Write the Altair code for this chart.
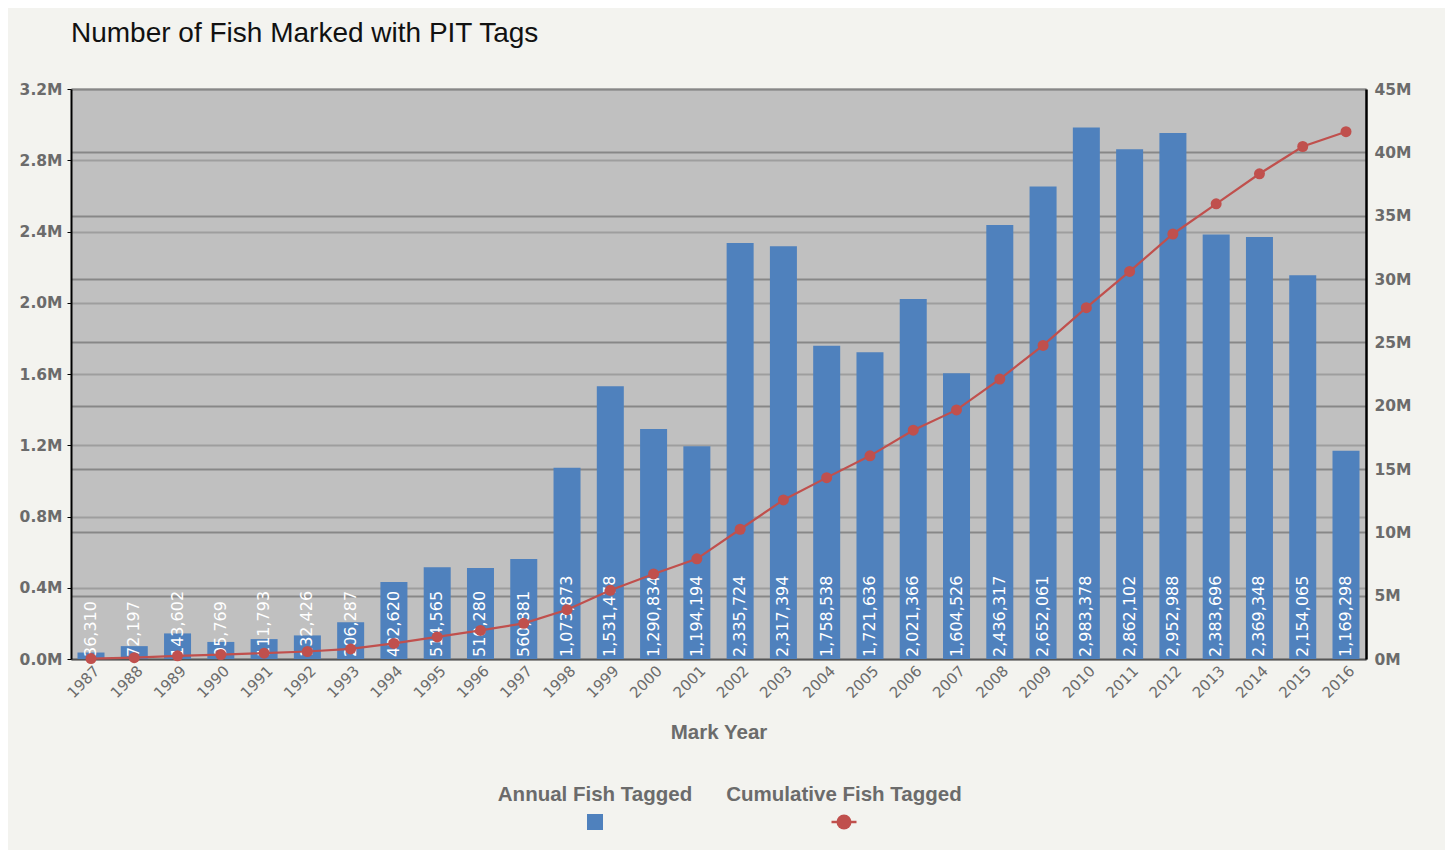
import altair as alt
import pandas as pd

# ---- data ----
years = [str(y) for y in range(1987, 2017)]
annual = [36310, 72197, 143602, 95769, 111793, 132426, 206287, 432620, 514565,
          510280, 560881, 1073873, 1531478, 1290834, 1194194, 2335724, 2317394,
          1758538, 1721636, 2021366, 1604526, 2436317, 2652061, 2983378, 2862102,
          2952988, 2383696, 2369348, 2154065, 1169298]
cumulative = [36310, 108507, 252109, 347878, 459671, 592097, 798384, 1231004,
              1745569, 2255849, 2816730, 3890603, 5422081, 6712915, 7907109,
              10242833, 12560227, 14318765, 16040401, 18061767, 19666293,
              22102610, 24754671, 27738049, 30600151, 33553139, 35936835,
              38306183, 40460248, 41629546]
bar_labels = ["36,310", "72,197", "143,602", "95,769", "111,793", "132,426",
              "206,287", "432,620", "514,565", "510,280", "560,881", "1,073,873",
              "1,531,478", "1,290,834", "1,194,194", "2,335,724", "2,317,394",
              "1,758,538", "1,721,636", "2,021,366", "1,604,526", "2,436,317",
              "2,652,061", "2,983,378", "2,862,102", "2,952,988", "2,383,696",
              "2,369,348", "2,154,065", "1,169,298"]
series_names = ["Annual Fish Tagged", "Cumulative Fish Tagged"]
left_ticks = [0, 400000, 800000, 1200000, 1600000, 2000000, 2400000, 2800000, 3200000]
right_ticks = [0, 5000000, 10000000, 15000000, 20000000, 25000000, 30000000,
               35000000, 40000000, 45000000]

df = pd.DataFrame({"year": years, "annual": annual,
                   "cumulative": cumulative, "label": bar_labels})
leg_df = pd.DataFrame({"name": series_names})

BLUE = "#4f81bd"
RED = "#c0504d"
GRAY_TXT = "#6b6b6b"

x_enc = alt.X(
    "year:O",
    scale=alt.Scale(type="band", paddingInner=0.376, paddingOuter=0.15),
    axis=alt.Axis(
        title="Mark Year", labelAngle=315, labelAlign="right", labelBaseline="middle",
        labelFont="DejaVu Sans", labelFontSize=15, labelColor=GRAY_TXT,
        labelPadding=9, labelOffset=6, ticks=False, tickSize=0,
        domainColor="#555555", domainWidth=1.5, grid=False,
        titleFont="Liberation Sans", titleFontSize=20.5, titleFontWeight="bold",
        titleColor=GRAY_TXT, titleBaseline="alphabetic", titleY=79,
    ),
)

bars = alt.Chart(df).mark_bar(color=BLUE).encode(
    x=x_enc,
    y=alt.Y(
        "annual:Q",
        scale=alt.Scale(domain=[0, 3200000], nice=False, zero=True),
        axis=alt.Axis(
            title=None, orient="left", values=left_ticks,
            labelExpr="format(datum.value / 1000000, '.1f') + 'M'",
            labelFont="DejaVu Sans", labelFontSize=15.5, labelFontWeight="bold",
            labelColor=GRAY_TXT, labelPadding=5, ticks=True, tickSize=4,
            tickColor="#000000", domainColor="#000000", domainWidth=2,
            grid=True, gridColor="#9e9e9e", gridWidth=2,
        ),
    ),
)

bar_text = alt.Chart(df).mark_text(
    angle=270, align="left", baseline="middle", dx=2, color="white",
    font="DejaVu Sans", fontSize=16,
).encode(x=x_enc, y=alt.datum(0), text="label:N")

left = alt.layer(bars, bar_text)

line = alt.Chart(df).mark_line(
    color=RED, strokeWidth=2.2,
    point=alt.OverlayMarkDef(filled=True, size=121, color=RED, opacity=1),
).encode(
    x=x_enc,
    y=alt.Y(
        "cumulative:Q",
        scale=alt.Scale(domain=[0, 45000000], nice=False, zero=True),
        axis=alt.Axis(
            title=None, orient="right", values=right_ticks,
            labelExpr="format(datum.value / 1000000, 'd') + 'M'",
            labelFont="DejaVu Sans", labelFontSize=15.5, labelFontWeight="bold",
            labelColor=GRAY_TXT, labelPadding=8, ticks=False, tickSize=0,
            domainColor="#000000", domainWidth=2.5,
            grid=True, gridColor="#878787", gridWidth=2,
        ),
    ),
)

main = alt.layer(left, line).resolve_scale(y="independent")

# ---- legend (labels above symbols) ----
leg_x = alt.X("name:N",
              scale=alt.Scale(type="point", domain=series_names, range=[524, 773], padding=0),
              axis=None)

leg_text = alt.Chart(leg_df).mark_text(
    font="Liberation Sans", fontSize=20.5, fontWeight="bold", color=GRAY_TXT,
    baseline="alphabetic", align="center",
).encode(x=leg_x, y=alt.value(711.5), text="name:N")

leg_square = alt.Chart(leg_df).transform_filter(
    alt.datum.name == series_names[0]
).mark_point(shape="square", filled=True, size=256, color=BLUE, opacity=1).encode(
    x=leg_x, y=alt.value(733)
)

leg_tick = alt.Chart(leg_df).transform_filter(
    alt.datum.name == series_names[1]
).mark_tick(orient="horizontal", size=25, thickness=2.5, color=RED, opacity=1).encode(
    x=leg_x, y=alt.value(733)
)

leg_dot = alt.Chart(leg_df).transform_filter(
    alt.datum.name == series_names[1]
).mark_point(shape="circle", filled=True, size=225, color=RED, opacity=1).encode(
    x=leg_x, y=alt.value(733)
)

chart = alt.layer(main, leg_text, leg_square, leg_tick, leg_dot).resolve_scale(
    x="independent", y="independent"
).properties(
    width=1295,
    height=570,
    padding={"left": 63, "top": 81, "right": 79, "bottom": 191},
    autosize=alt.AutoSizeParams(type="none"),
    background="#f3f3ef",
    title=alt.TitleParams(
        text="Number of Fish Marked with PIT Tags", anchor="start", frame="group",
        font="Liberation Sans", fontSize=28, fontWeight="normal", color="#111111",
        baseline="alphabetic", offset=12,
    ),
).configure_view(fill="#c0c0c0", stroke=None)

chart.save("out.html", embed_options={"renderer": "svg", "actions": False})
